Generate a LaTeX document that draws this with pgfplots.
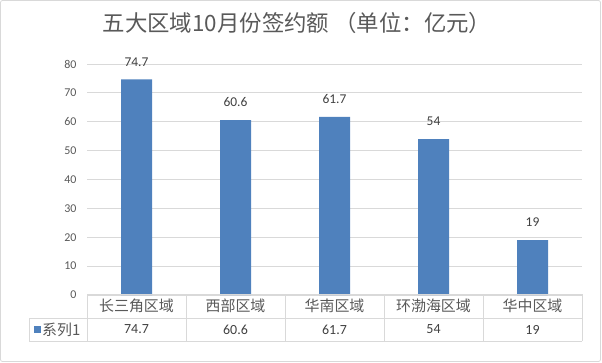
\documentclass[border=0pt]{standalone}
\usepackage{pgfplots}
\pgfplotsset{compat=1.18}
\usepackage{fontspec}
\setmainfont{Carlito}
\newfontfamily\cjk{Noto Sans CJK SC}
\definecolor{barblue}{HTML}{4F81BD}
\definecolor{txtgray}{HTML}{595959}
\definecolor{valgray}{HTML}{404040}
\definecolor{linegray}{HTML}{D9D9D9}
\begin{document}
\begin{tikzpicture}[x=1bp,y=1bp]
\path[use as bounding box] (0,0) rectangle (602,362);
\draw[linegray, line width=0.8bp, rounded corners=2bp] (0.5,0.5) rectangle (600.5,361.5);
\node[text=txtgray, font=\cjk\fontsize{22.5}{26}\selectfont] at (297,339) {五大区域10月份签约额 （单位：亿元）};
\begin{axis}[
  at={(87bp,67bp)}, anchor=south west,
  width=495bp, height=231bp, scale only axis,
  xmin=-0.5, xmax=4.5, ymin=0, ymax=80,
  ytick={0,10,...,80}, xtick=\empty,
  ymajorgrids, grid style={linegray, line width=0.8bp},
  axis line style={draw=none}, major tick style={draw=none},
  /pgf/number format/assume math mode=true,
  yticklabel style={font=\fontsize{12}{14}\selectfont, text=txtgray, xshift=-7bp},
  ybar, bar width=31bp,
  clip=false,
  nodes near coords,
  every node near coord/.append style={font=\fontsize{13.5}{15}\selectfont, text=valgray, inner sep=0pt, anchor=south, yshift=13bp},
  /pgf/number format/.cd, fixed, precision=1,
]
\addplot[fill=barblue, draw=none] coordinates {(0,74.7) (1,60.6) (2,61.7) (3,54) (4,19)};
\end{axis}
% data table
\begin{scope}[linegray, line width=0.8bp]
\draw (87,68) -- (582,68);
\draw (29,44) -- (582,44);
\draw (29,21) -- (582,21);
\draw (29,21) -- (29,44);
\foreach \x in {87,186,285,384,483,582} \draw (\x,21) -- (\x,68);
\end{scope}
\foreach \x/\lab/\v in {136.5/长三角区域/74.7, 235.5/西部区域/60.6, 334.5/华南区域/61.7, 433.5/环渤海区域/54, 532.5/华中区域/19} {
  \node[text=txtgray, font=\cjk\fontsize{15}{17}\selectfont] at (\x,56) {\lab};
  \node[text=valgray, font=\fontsize{14}{16}\selectfont] at (\x,32.5) {\v};
}
\fill[barblue] (34,29.5) rectangle (41,36.5);
\node[anchor=west, text=txtgray, font=\cjk\fontsize{15}{17}\selectfont, inner sep=0pt] at (42,32.5) {系列1};
\end{tikzpicture}
\end{document}
